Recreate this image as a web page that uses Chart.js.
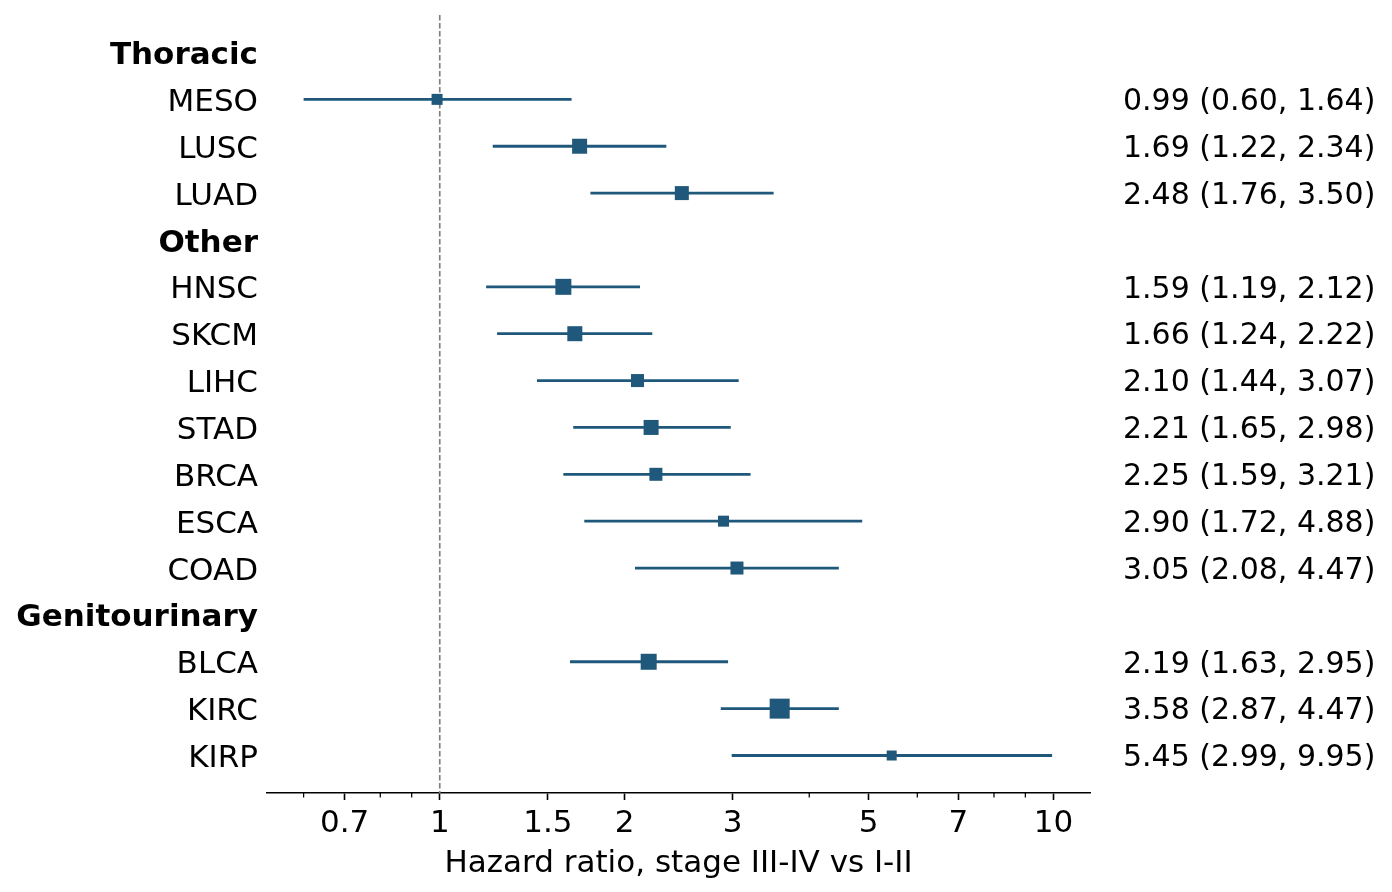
<!DOCTYPE html>
<html>
<head>
<meta charset="utf-8">
<title>Hazard ratio forest plot</title>
<script src="https://cdn.jsdelivr.net/npm/chart.js@4/dist/chart.umd.min.js"></script>
<style>
  html, body { margin: 0; padding: 0; background: #fff; }
  #wrap { width: 1392px; height: 892px; position: relative; }
</style>
</head>
<body>
<div id="wrap"><canvas id="forest"></canvas></div>
<script>
// rows top to bottom, group headers included
const rowLabels = ["Thoracic", "MESO", "LUSC", "LUAD",
  "Other", "HNSC", "SKCM", "LIHC", "STAD", "BRCA", "ESCA", "COAD",
  "Genitourinary", "BLCA", "KIRC", "KIRP"];
const headerRows = ["Thoracic", "Other", "Genitourinary"];

const cancers = ["MESO", "LUSC", "LUAD", "HNSC", "SKCM", "LIHC", "STAD", "BRCA", "ESCA", "COAD", "BLCA", "KIRC", "KIRP"];
const hazardRatio = [0.99, 1.69, 2.48, 1.59, 1.66, 2.10, 2.21, 2.25, 2.90, 3.05, 2.19, 3.58, 5.45];
const ciLow = [0.60, 1.22, 1.76, 1.19, 1.24, 1.44, 1.65, 1.59, 1.72, 2.08, 1.63, 2.87, 2.99];
const ciHigh = [1.64, 2.34, 3.50, 2.12, 2.22, 3.07, 2.98, 3.21, 4.88, 4.47, 2.95, 4.47, 9.95];

const xTicks = [0.7, 1, 1.5, 2, 3, 5, 7, 10];
const xMinorTicks = [0.6, 0.8, 0.9, 4, 6, 8, 9];

// square side in px, per cancer (marker weight as drawn)
const markerSide = [11, 15, 14, 16, 15, 13, 15, 13, 11, 13, 16, 20, 10];

const BLUE = "#1f587a";
const FONT = "DejaVu Sans";
const FONT_SIZE = 31;
const EST_SIZE = 30;

Chart.defaults.color = "#000";
Chart.defaults.font.family = FONT;
Chart.defaults.font.size = FONT_SIZE;

const rowOf = name => rowLabels.indexOf(name);
const yMin = -0.8, yMax = rowLabels.length - 0.2;

const ciDatasets = cancers.map((c, i) => ({
  type: "scatter",
  showLine: true,
  data: [{ x: ciLow[i], y: rowOf(c) }, { x: ciHigh[i], y: rowOf(c) }],
  borderColor: BLUE,
  borderWidth: 2.8,
  borderCapStyle: "butt",
  pointRadius: 0,
  order: 1
}));

const squares = {
  type: "scatter",
  data: cancers.map((c, i) => ({ x: hazardRatio[i], y: rowOf(c) })),
  pointStyle: "rect",
  pointRadius: markerSide.map(s => s / Math.SQRT2),
  backgroundColor: BLUE,
  borderWidth: 0,
  order: 0
};

const refLine = {
  type: "scatter",
  showLine: true,
  data: [{ x: 1, y: yMin }, { x: 1, y: yMax }],
  borderColor: "#808080",
  borderWidth: 1.7,
  borderDash: [5.5, 2.5],
  pointRadius: 0,
  order: 2
};

// "HR (low, high)" column on the right
const estimateText = {
  id: "estimateText",
  afterDatasetsDraw(chart) {
    const { ctx } = chart;
    const y = chart.scales.y;
    ctx.save();
    ctx.font = `${EST_SIZE}px "${FONT}"`;
    ctx.fillStyle = "#000";
    ctx.textAlign = "left";
    ctx.textBaseline = "middle";
    cancers.forEach((c, i) => {
      const txt = `${hazardRatio[i].toFixed(2)} (${ciLow[i].toFixed(2)}, ${ciHigh[i].toFixed(2)})`;
      ctx.fillText(txt, 1123, y.getPixelForValue(rowOf(c)) + 3);
    });
    ctx.restore();
  }
};

const minorTicks = {
  id: "minorTicks",
  afterDraw(chart) {
    const { ctx, chartArea } = chart;
    const x = chart.scales.x;
    ctx.save();
    ctx.strokeStyle = "#000";
    ctx.lineWidth = 1.25;
    xMinorTicks.forEach(v => {
      const px = x.getPixelForValue(v);
      ctx.beginPath();
      ctx.moveTo(px, chartArea.bottom);
      ctx.lineTo(px, chartArea.bottom + 4.5);
      ctx.stroke();
    });
    ctx.restore();
  }
};

new Chart(document.getElementById("forest"), {
  type: "scatter",
  data: { datasets: [squares, ...ciDatasets, refLine] },
  options: {
    responsive: true,
    maintainAspectRatio: false,
    animation: false,
    events: [],
    layout: { padding: { top: 15, right: 302, left: 0, bottom: 0 } },
    plugins: { legend: { display: false }, tooltip: { enabled: false } },
    scales: {
      x: {
        type: "logarithmic",
        min: 0.523,
        max: 11.47,
        afterBuildTicks: scale => { scale.ticks = xTicks.map(v => ({ value: v })); },
        afterFit: scale => {
          scale.height = 99;
          scale.paddingLeft = 0;
          scale.paddingRight = 0;
        },
        ticks: { padding: 5, maxRotation: 0, autoSkip: false, callback: v => String(v) },
        grid: { drawOnChartArea: false, tickLength: 7, tickWidth: 1.6, tickColor: "#000" },
        border: { display: true, color: "#000", width: 1.6 },
        title: {
          display: true,
          text: "Hazard ratio, stage III-IV vs I-II",
          padding: { top: 0, bottom: 9 }
        }
      },
      y: {
        type: "linear",
        reverse: true,
        min: yMin,
        max: yMax,
        afterBuildTicks: scale => { scale.ticks = rowLabels.map((_, i) => ({ value: i })); },
        afterFit: scale => {
          scale.width = 267;
          scale.paddingTop = 0;
          scale.paddingBottom = 0;
        },
        ticks: {
          padding: 9,
          labelOffset: 3.5,
          autoSkip: false,
          callback: v => rowLabels[v],
          font: ctx => ({
            family: FONT,
            size: FONT_SIZE,
            weight: headerRows.includes(rowLabels[ctx.tick ? ctx.tick.value : -1]) ? "bold" : "normal"
          })
        },
        grid: { display: false, drawTicks: false },
        border: { display: false }
      }
    }
  },
  plugins: [estimateText, minorTicks]
});
</script>
</body>
</html>
